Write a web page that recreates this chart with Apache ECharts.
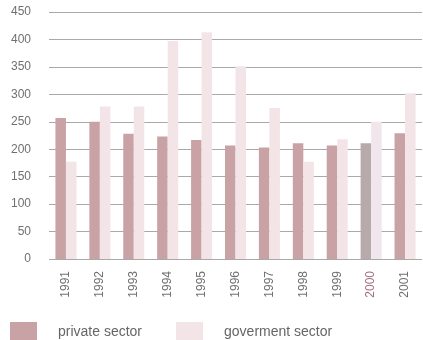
<!DOCTYPE html>
<html>
<head>
<meta charset="utf-8">
<script src="https://cdn.jsdelivr.net/npm/echarts@6/dist/echarts.min.js"></script>
<style>
  html, body { margin: 0; padding: 0; background: #fff; }
  #chart { width: 423px; height: 340px; }
</style>
</head>
<body>
<div id="chart"></div>
<script>
var years = ['1991', '1992', '1993', '1994', '1995', '1996', '1997', '1998', '1999', '2000', '2001'];
var privateSector = [257, 250, 228, 223, 217, 207, 203, 211, 207, 211, 229];
var govermentSector = [177, 278, 278, 397, 413, 351, 275, 177, 218, 250, 302];
var yTicks = [0, 50, 100, 150, 200, 250, 300, 350, 400, 450];

var chart = echarts.init(document.getElementById('chart'));

// the 2000 pair is drawn in a slightly greyer tone in the source
function colored(values, special) {
  return values.map(function (v, i) {
    return years[i] === '2000' ? { value: v, itemStyle: { color: special } } : v;
  });
}

chart.setOption({
  animation: false,
  textStyle: { fontFamily: 'Liberation Sans, Arial, sans-serif' },
  grid: { left: 49, right: 1, top: 12, bottom: 81 },
  legend: {
    left: 10,
    top: 322,
    padding: 0,
    itemWidth: 27,
    itemHeight: 20,
    itemGap: 34,
    icon: 'rect',
    textStyle: { fontSize: 14, color: '#666', padding: [0, 0, 0, 16] },
    data: ['private sector', 'goverment sector']
  },
  xAxis: {
    type: 'category',
    data: years,
    axisLine: { show: false },
    axisTick: { show: false },
    axisLabel: {
      rotate: 90,
      margin: 12,
      fontSize: 12,
      color: '#707070',
      formatter: function (v) { return v === '2000' ? '{h|' + v + '}' : v; },
      rich: { h: { color: '#a0707e', fontSize: 12 } }
    }
  },
  yAxis: {
    type: 'value',
    min: yTicks[0],
    max: yTicks[yTicks.length - 1],
    interval: 50,
    axisLine: { show: false },
    axisTick: { show: false },
    axisLabel: { fontSize: 12, color: '#707070', margin: 18 },
    splitLine: { lineStyle: { color: '#a9a9a9', width: 1 } }
  },
  series: [
    {
      name: 'private sector',
      type: 'bar',
      barWidth: '31%',
      barGap: '0%',
      itemStyle: { color: '#c9a2a6' },
      data: colored(privateSector, '#b8a9ab')
    },
    {
      name: 'goverment sector',
      type: 'bar',
      barWidth: '31%',
      itemStyle: { color: '#f3e4e8' },
      data: colored(govermentSector, '#f0e6ec')
    }
  ]
});
</script>
</body>
</html>
